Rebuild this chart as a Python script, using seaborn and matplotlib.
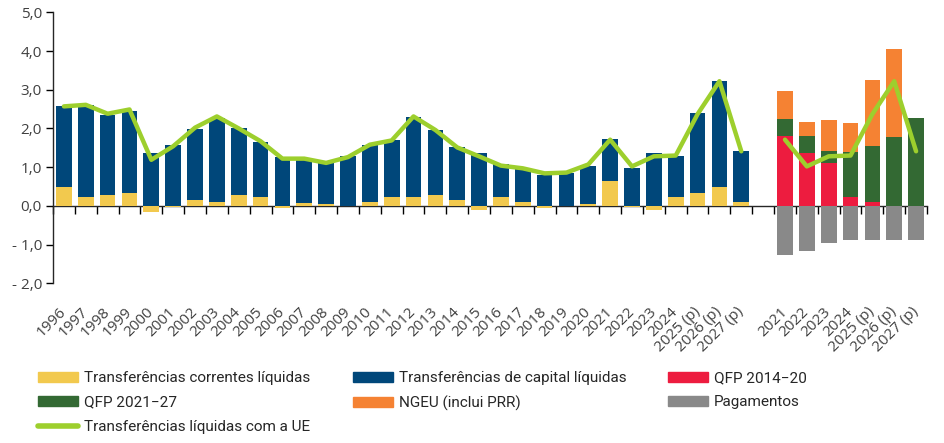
import numpy as np
import pandas as pd
import matplotlib.pyplot as plt
import seaborn as sns
from matplotlib.patches import Patch
from matplotlib.lines import Line2D
from matplotlib.ticker import FuncFormatter

# série histórica (% do PIB)
anos = ['1996', '1997', '1998', '1999', '2000', '2001', '2002', '2003', '2004', '2005',
        '2006', '2007', '2008', '2009', '2010', '2011', '2012', '2013', '2014', '2015',
        '2016', '2017', '2018', '2019', '2020', '2021', '2022', '2023', '2024',
        '2025 (p)', '2026 (p)', '2027 (p)']
correntes = [0.50, 0.22, 0.27, 0.34, -0.17, -0.03, 0.16, 0.09, 0.29, 0.22,
             -0.06, 0.07, 0.06, 0.00, 0.09, 0.22, 0.22, 0.29, 0.14, -0.10,
             0.22, 0.09, -0.06, 0.00, 0.06, 0.63, -0.04, -0.10, 0.24,
             0.34, 0.50, 0.09]
capital = [2.07, 2.39, 2.09, 2.12, 1.36, 1.57, 1.82, 2.19, 1.71, 1.42,
           1.26, 1.15, 1.05, 1.28, 1.47, 1.47, 2.07, 1.67, 1.39, 1.36,
           0.85, 0.85, 0.81, 0.84, 0.98, 1.09, 0.99, 1.36, 1.04,
           2.05, 2.72, 1.32]
liquidas = [2.57, 2.61, 2.38, 2.49, 1.19, 1.54, 2.02, 2.31, 2.00, 1.67,
            1.22, 1.22, 1.11, 1.26, 1.58, 1.69, 2.31, 1.96, 1.51, 1.28,
            1.04, 0.97, 0.84, 0.86, 1.07, 1.71, 1.02, 1.28, 1.30,
            2.37, 3.22, 1.41]

# quadros financeiros
anos_qfp = ['2021', '2022', '2023', '2024', '2025 (p)', '2026 (p)', '2027 (p)']
qfp_2014 = [1.80, 1.36, 1.10, 0.22, 0.09, 0.00, 0.00]
qfp_2021 = [0.44, 0.44, 0.33, 1.18, 1.45, 1.77, 2.26]
ngeu = [0.72, 0.36, 0.78, 0.73, 1.70, 2.28, 0.00]
pagamentos = [-1.26, -1.16, -0.95, -0.87, -0.87, -0.87, -0.87]
liquidas_qfp = [1.71, 1.02, 1.28, 1.30, 2.37, 3.22, 1.41]

c_corr = '#F2C94E'
c_cap = '#00477A'
c_red = '#ED1C3F'
c_green = '#336933'
c_orange = '#F58233'
c_grey = '#898989'
c_line = '#9DCF2D'

# chaves únicas para cada posição (2021.. aparecem duas vezes)
k_esq = ['a' + a for a in anos]
k_dir = ['b' + a for a in anos_qfp]
ordem = k_esq + ['gap'] + k_dir
rotulos = anos + [''] + anos_qfp

sns.set_style('ticks')
plt.rcParams['font.family'] = ['Open Sans', 'DejaVu Sans']

fig = plt.figure(figsize=(9.45, 4.43), dpi=100)
ax = fig.add_axes([53 / 945, 1 - 283.3 / 443, (927 - 53) / 945, (283.3 - 12.3) / 443])

w = 0.72
barra = dict(order=ordem, saturation=1, width=w, errorbar=None, linewidth=0, ax=ax)
# lado esquerdo: capital empilhado sobre correntes
topo_cap = np.array(capital) + np.clip(correntes, 0, None)
sns.barplot(x=k_esq, y=topo_cap, color=c_cap, **barra)
sns.barplot(x=k_esq, y=correntes, color=c_corr, **barra)

# lado direito: QFP 2014-20 + QFP 2021-27 + NGEU, pagamentos para baixo
s1 = np.array(qfp_2014)
s2 = s1 + np.array(qfp_2021)
s3 = s2 + np.array(ngeu)
sns.barplot(x=k_dir, y=s3, color=c_orange, **barra)
sns.barplot(x=k_dir, y=s2, color=c_green, **barra)
sns.barplot(x=k_dir, y=s1, color=c_red, **barra)
sns.barplot(x=k_dir, y=pagamentos, color=c_grey, **barra)

# linhas das transferências líquidas
pos_esq = [ordem.index(k) for k in k_esq]
pos_dir = [ordem.index(k) for k in k_dir]
sns.lineplot(x=pos_esq, y=liquidas, color=c_line, linewidth=3.2, ax=ax, solid_capstyle='round')
sns.lineplot(x=pos_dir, y=liquidas_qfp, color=c_line, linewidth=3.2, ax=ax, solid_capstyle='round')

ax.set_xlim(-0.5, len(ordem) - 0.5)
ax.set_ylim(-2, 5)
ax.set_yticks(np.arange(-2, 6, 1))
ax.yaxis.set_major_formatter(FuncFormatter(
    lambda v, p: ('- ' if v < 0 else '') + f'{abs(v):.1f}'.replace('.', ',')))
ax.tick_params(axis='y', length=5, width=1, colors='black', labelcolor='#404040', labelsize=11, pad=3)
ax.set_xlabel('')
ax.set_ylabel('')

# rótulos do eixo x em baixo
ax.set_xticks(range(len(ordem)))
ax.set_xticklabels(rotulos, rotation=45, ha='right', va='center', rotation_mode='anchor')
ax.tick_params(axis='x', length=0, labelsize=11, labelcolor='#404040', pad=19)
for s in ['top', 'right', 'bottom']:
    ax.spines[s].set_visible(False)
ax.spines['left'].set_linewidth(1)

# eixo com marcas em y = 0
sec = ax.secondary_xaxis(2 / 7)
sec.set_xticks(np.arange(-0.5, len(ordem), 1))
sec.set_xticklabels([])
sec.tick_params(axis='x', direction='out', length=6, width=1, color='black')
sec.spines['bottom'].set_linewidth(1)

# legenda em três colunas
colunas = [
    [Patch(color=c_corr, label='Transferências correntes líquidas'),
     Patch(color=c_green, label='QFP 2021\u221227'),
     Line2D([0], [0], color=c_line, linewidth=4, solid_capstyle='round',
            label='Transferências líquidas com a UE')],
    [Patch(color=c_cap, label='Transferências de capital líquidas'),
     Patch(color=c_orange, label='NGEU (inclui PRR)')],
    [Patch(color=c_red, label='QFP 2014\u221220'),
     Patch(color=c_grey, label='Pagamentos')],
]
for x0, hs in zip([38, 353, 668], colunas):
    fig.legend(handles=hs, ncol=1, loc='upper left', bbox_to_anchor=(x0 / 945, 1 - 371 / 443),
               frameon=False, borderpad=0, borderaxespad=0, handlelength=2.6, handleheight=0.65,
               handletextpad=0.4, labelspacing=0.68,
               prop={'family': ['Roboto', 'DejaVu Sans'], 'size': 11})

fig.savefig('out.png', dpi=100)
